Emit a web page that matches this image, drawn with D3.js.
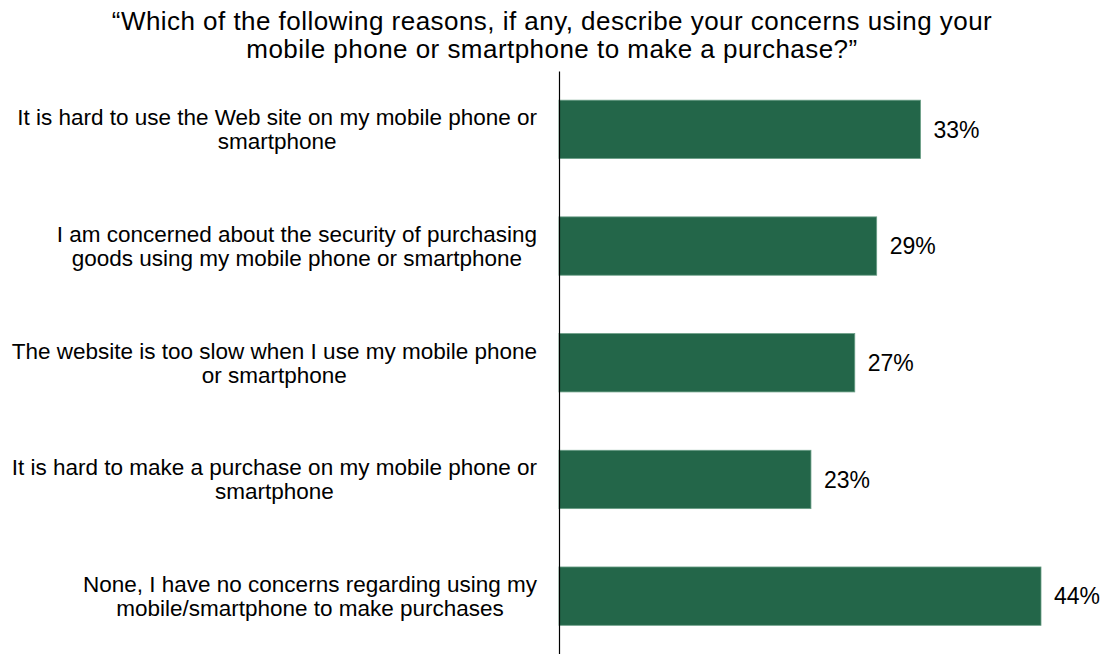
<!DOCTYPE html>
<html>
<head>
<meta charset="utf-8">
<script src="https://cdn.jsdelivr.net/npm/d3@7"></script>
<style>
  html, body { margin: 0; padding: 0; background: #fff; }
  svg { display: block; font-family: "Liberation Sans", Arial, sans-serif; }
</style>
</head>
<body>
<svg id="chart" width="1103" height="654"></svg>
<script>
// Survey question and answer categories (each label split into its display lines)
const titleLines = [
  "\u201CWhich of the following reasons, if any, describe your concerns using your",
  "mobile phone or smartphone to make a purchase?\u201D"
];
const categories = [
  "It is hard to use the Web site on my mobile phone or smartphone",
  "I am concerned about the security of purchasing goods using my mobile phone or smartphone",
  "The website is too slow when I use my mobile phone or smartphone",
  "It is hard to make a purchase on my mobile phone or smartphone",
  "None, I have no concerns regarding using my mobile/smartphone to make purchases"
];
const categoryLines = [
  ["It is hard to use the Web site on my mobile phone or", "smartphone"],
  ["I am concerned about the security of purchasing", "goods using my mobile phone or smartphone"],
  ["The website is too slow when I use my mobile phone", "or smartphone"],
  ["It is hard to make a purchase on my mobile phone or", "smartphone"],
  ["None, I have no concerns regarding using my", "mobile/smartphone to make purchases"]
];
const values = [33, 29, 27, 23, 44];
const valueLabels = ["33%", "29%", "27%", "23%", "44%"];

const svg = d3.select("#chart");
const barColor = "#236649";

// Scales
const x = d3.scaleLinear().domain([0, 44]).range([559, 1041]);
const y = d3.scaleBand()
  .domain(categories)
  .range([71, 654.5])
  .paddingInner(0.5)
  .paddingOuter(0.25);

// Title: spread slightly so the first line spans the chart width
const titleG = svg.append("g");
const titleText = titleG.selectAll("text")
  .data(titleLines)
  .join("text")
  .attr("x", 552)
  .attr("y", (d, i) => 29.5 + i * 28.5)
  .attr("text-anchor", "middle")
  .attr("font-size", 26)
  .attr("fill", "#000")
  .text(d => d);
const firstW = titleText.nodes()[0].getComputedTextLength();
const spacing = (880 - firstW) / (titleLines[0].length - 1);
titleText.attr("letter-spacing", spacing);

// Bars
svg.append("g")
  .selectAll("rect")
  .data(values)
  .join("rect")
  .attr("x", x(0))
  .attr("y", (d, i) => y(categories[i]))
  .attr("width", d => x(d) - x(0))
  .attr("height", y.bandwidth())
  .attr("fill", barColor)
  .attr("stroke", "#6a9e86")
  .attr("stroke-width", 0.8);

// Value labels
svg.append("g")
  .selectAll("text")
  .data(values)
  .join("text")
  .attr("x", d => x(d) + 13)
  .attr("y", (d, i) => y(categories[i]) + y.bandwidth() / 2)
  .attr("dy", "0.36em")
  .attr("font-size", 23)
  .attr("fill", "#000")
  .text((d, i) => valueLabels[i]);

// Vertical category axis line
const yAxis = d3.axisLeft(y).tickSize(0).tickFormat("");
svg.append("g")
  .attr("transform", `translate(${x(0)},0)`)
  .call(yAxis)
  .call(g => g.select(".domain").attr("stroke", "#000").attr("stroke-width", 1.2));

// Category labels: lines centred within each block, block right-aligned to the axis gutter
const labelRight = 537;
const labels = svg.append("g");
categories.forEach((c, i) => {
  const lines = categoryLines[i];
  const cy = y(c) + y.bandwidth() / 2;
  const lh = 24;
  const t = labels.append("text")
    .attr("font-size", 22.5)
    .attr("text-anchor", "middle")
    .attr("fill", "#000");
  const spans = lines.map((ln, j) => t.append("tspan")
    .attr("y", cy + (j - (lines.length - 1) / 2) * lh)
    .attr("dy", "0.35em")
    .text(ln));
  const w = d3.max(spans, s => s.node().getComputedTextLength());
  spans.forEach(s => s.attr("x", labelRight - w / 2));
});
</script>
</body>
</html>
